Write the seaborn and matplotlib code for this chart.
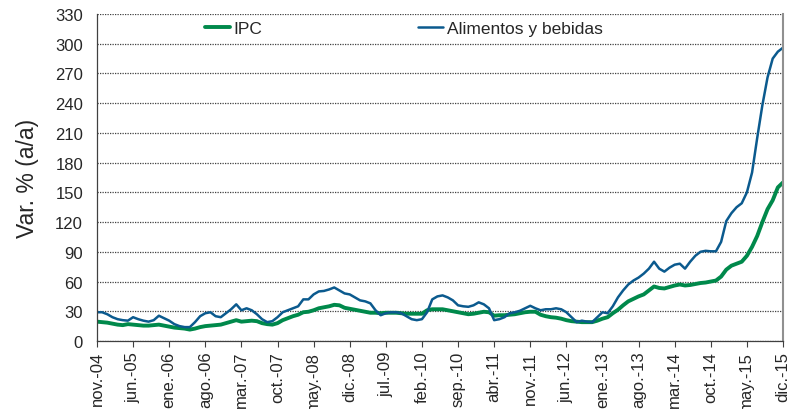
import pandas as pd
import matplotlib
matplotlib.use('Agg')
import matplotlib.pyplot as plt
from matplotlib.lines import Line2D
import seaborn as sns

# monthly data, nov-04 .. dic-15
months = pd.date_range('2004-11-01', '2015-12-01', freq='MS')

ipc = [19.5, 19, 18.5, 17.5, 16.5, 16, 17, 16.5, 16, 15.5,
       15.5, 16, 16.5, 15.5, 14.5, 13.5, 13, 12.5, 11.5, 12.5,
       14, 15, 15.5, 16, 16.5, 18, 19.5, 21, 19.5, 20,
       20.5, 20, 18, 17, 16.5, 18, 21, 23, 25, 26.5,
       29, 29.5, 31, 33, 34, 35, 36.5, 36, 33.5, 32.5,
       31.5, 30.5, 29.5, 28.5, 28.5, 28, 28.5, 28.5, 28.5, 28,
       27.5, 27.5, 27.5, 27.5, 31, 32, 32, 32, 31, 30,
       29, 28, 27, 27.5, 28.5, 29.5, 29, 25.5, 26, 26,
       26.5, 27, 28, 29, 29.5, 29.5, 26.5, 25, 24, 23.5,
       22.5, 21, 20, 19.5, 19, 19, 19, 20.5, 22.5, 24,
       28, 31.5, 36, 40, 42.5, 45, 47, 51, 55, 53.5,
       53, 54.5, 56, 57, 56, 56.5, 57.5, 58.5, 59, 60,
       61, 65, 72, 76, 78, 80, 86, 95, 106, 120,
       133, 142, 155, 160]

alimentos = [29, 29, 27, 24, 22, 21, 20.5, 24, 22, 20.5,
             19.5, 21, 25.5, 23, 20.5, 17, 15, 14, 14, 19,
             25, 28, 29, 25, 24, 28, 32, 37, 31, 33,
             31, 27, 22, 19, 20, 24, 29, 31, 33, 35,
             42, 42, 47, 50, 50.5, 52, 54, 51, 48, 47,
             44, 41, 40, 38, 31, 26, 28, 29, 29, 28,
             25, 22, 21, 22, 29, 42, 45, 46, 44, 41,
             36, 35, 34.5, 36, 39, 37, 33, 21, 22, 24,
             28, 29, 30.5, 33, 35.5, 33, 31, 32, 32, 33,
             32, 29, 24, 19, 20.5, 19.5, 19, 24, 29, 28,
             35, 44, 51, 57, 61, 64, 68, 73, 80, 73,
             70, 74, 77, 78, 73, 80, 86, 90, 91, 90.5,
             90.5, 100, 121, 129, 135, 139, 150, 170, 205, 238,
             266, 285, 292, 296]

tick_labels = ['nov.-04', 'jun.-05', 'ene.-06', 'ago.-06', 'mar.-07', 'oct.-07',
               'may.-08', 'dic.-08', 'jul.-09', 'feb.-10', 'sep.-10', 'abr.-11',
               'nov.-11', 'jun.-12', 'ene.-13', 'ago.-13', 'mar.-14', 'oct.-14',
               'may.-15', 'dic.-15']

df = pd.DataFrame({'mes': range(len(months)), 'IPC': ipc,
                   'Alimentos y bebidas': alimentos})
long = df.melt(id_vars='mes', var_name='serie', value_name='valor')

sns.set_style('white')
plt.rcParams['font.family'] = ['Liberation Sans', 'DejaVu Sans']

fig = plt.figure(figsize=(7.91, 4.10), dpi=100)
ax = fig.add_axes([0.1226, 0.1659, 0.8673, 0.7975])

colors = {'IPC': '#00894b', 'Alimentos y bebidas': '#0b5a8e'}
sizes = {'IPC': 2.8, 'Alimentos y bebidas': 1.8}
sns.lineplot(data=long, x='mes', y='valor', hue='serie', size='serie',
             palette=colors, sizes=sizes, ax=ax, legend=False)

ax.set_xlim(0, len(months) - 1)
ax.set_ylim(0, 330)
ax.set_yticks(range(0, 331, 30))
ax.set_xticks(range(0, len(months), 7))
ax.set_xticklabels(tick_labels, rotation=90)
ax.tick_params(axis='x', labelsize=12, direction='out', length=4,
               width=0.8, color='#404040', bottom=True, pad=3)
ax.tick_params(axis='y', labelsize=12, left=True, length=0, pad=10)
ax.set_xlabel('')
ax.set_ylabel('Var. % (a/a)', fontsize=16.5, labelpad=12)

ax.grid(axis='y', linestyle=(0, (1, 1)), color='#404040', linewidth=0.9)
ax.grid(axis='x', visible=False)

for s in ['left', 'bottom']:
    ax.spines[s].set_color('#404040')
    ax.spines[s].set_linewidth(0.9)
ax.spines['right'].set_color('#909090')
ax.spines['right'].set_linewidth(1.5)
ax.spines['top'].set_visible(False)

handles = [Line2D([], [], color=colors['IPC'], lw=2.8),
           Line2D([], [], color=colors['Alimentos y bebidas'], lw=1.8)]
ax.legend(handles, ['IPC', 'Alimentos y bebidas'], loc='center left',
          bbox_to_anchor=(0.134, 0.955), ncol=2, frameon=False, fontsize=12.5,
          handlelength=1.45, handletextpad=0.2, columnspacing=9)

plt.savefig('out.png', dpi=100)
